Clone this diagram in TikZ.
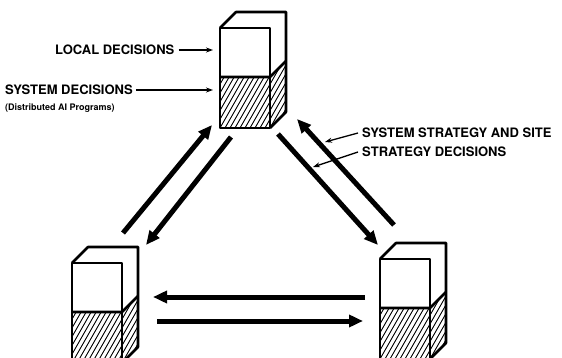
\documentclass[tikz,border=0pt]{standalone}
\usepackage{fontspec}
\setmainfont{TeX Gyre Heros}
\usetikzlibrary{arrows.meta,calc}
\newcommand \mycube[3]
{
\coordinate (#1) at (#2,#3);
\begin{scope}
\clip ($(#1)+(0,49)$) rectangle ++(50,51)
      ($(#1)+(50,49)$) -- ++(16,-16) -- ++(0,51) -- ++(-16,16) -- cycle;
\foreach \k in {0,5,...,110} {\draw[hatch] ($(#1)+(\k-40,100)$) -- ++(40,-70);}
\end{scope}
\draw[cube] (#1) rectangle ++(50,100);
\draw[cube] ($(#1)+(0,49)$) -- ++(50,0) -- ++(16,-16);
\draw[cube] (#1) -- ++(16,-16) -- ++(50,0) -- ++(0,100) -- ++(-16,16);
}

\begin{document}
\begin{tikzpicture}[x=1pt, y=-1pt, line join=round,
  cube/.style={line width=2.6pt},
  hatch/.style={line width=0.9pt},
  flow/.style={line width=5pt, -{Triangle[width=12pt,length=14pt]}},
  leader/.style={line width=1.3pt, -{Stealth[width=5pt,length=7pt]}},
  lbl/.style={font=\bfseries\fontsize{13}{15}\selectfont, inner sep=0pt, anchor=west},
  small/.style={font=\bfseries\fontsize{9}{11}\selectfont, inner sep=0pt, anchor=west}]
\path[use as bounding box, clip] (0,0) rectangle (562,358);
% the three sites
\mycube{top}{220}{28}
\mycube{left}{72}{263}
\mycube{right}{380}{259}
% flows between sites
\coordinate (L1) at (123,233); \coordinate (T1) at (212,125);
\coordinate (T2) at (231,137); \coordinate (L2) at (146,245);
\coordinate (T3) at (278,134); \coordinate (R1) at (378,245);
\coordinate (R2) at (394,225); \coordinate (T4) at (297,119);
\coordinate (R3) at (365,297); \coordinate (L3) at (153,297);
\coordinate (L4) at (157,321); \coordinate (R4) at (363,321);
\foreach \a/\b in {L1/T1,T2/L2,T3/R1,R2/T4,R3/L3,L4/R4} {\draw[flow] (\a)--(\b);}
% labels
\node[lbl] (loc) at (55,50) {LOCAL DECISIONS};
\node[lbl] (sys) at (5,90) {SYSTEM DECISIONS};
\node[small] (dai) at (5,108) {(Distributed AI Programs)};
\node[lbl] (sss) at (362,133) {SYSTEM STRATEGY AND SITE};
\node[lbl] (sd) at (362,152) {STRATEGY DECISIONS};
\coordinate (locTip) at (213,50);
\coordinate (sysTip) at (213,90);
\coordinate (sssTip) at (325,142);
\coordinate (sdTip) at (313,167);
\draw[leader] ([xshift=4pt]loc.east) -- (locTip);
\draw[leader] ([xshift=3pt]sys.east) -- (sysTip);
\draw[leader] ([xshift=-4pt]sss.west) -- (sssTip);
\draw[leader] ([xshift=-4pt]sd.west) -- (sdTip);
\end{tikzpicture}
\end{document}
